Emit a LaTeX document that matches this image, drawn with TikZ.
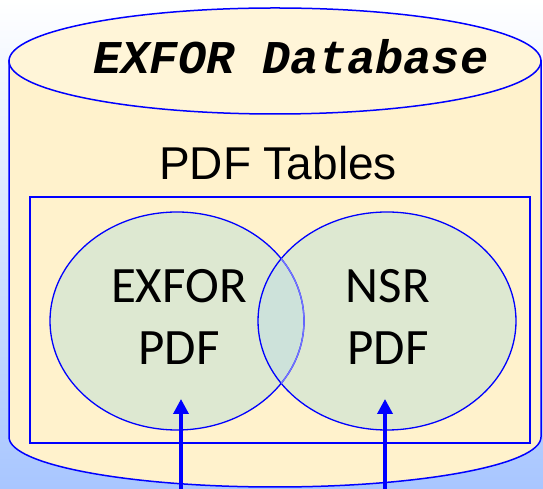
\documentclass[tikz,border=0pt]{standalone}
\usepackage{fontspec}
\usetikzlibrary{arrows.meta}
\newfontfamily\monofnt{Liberation Mono}
\newfontfamily\arialfnt{Liberation Sans}
\newfontfamily\calfnt{Carlito}
\definecolor{bgdark}{RGB}{168,198,255}
\definecolor{bglight}{RGB}{255,255,255}
\definecolor{cylbody}{RGB}{255,242,204}
\definecolor{cyltop}{RGB}{255,245,216}
\definecolor{venn}{RGB}{221,232,209}
\definecolor{lens}{RGB}{205,226,218}
\definecolor{edge}{RGB}{0,0,255}
\tikzset{
  outline/.style={draw=edge, line width=1.5pt},
  flow/.style={draw=edge, line width=3.5pt, -{Triangle[length=15pt,width=15pt]}},
  bigtext/.style={anchor=base, inner sep=0pt, text=black}
}
\begin{document}
\begin{tikzpicture}[x=1pt,y=1pt]
\useasboundingbox (0,0) rectangle (543,489);
\shade[shading angle=-45, top color=bglight, bottom color=bgdark] (0,0) rectangle (543,489);
% cylinder body
\path[outline, fill=cylbody] (9,428) -- (9,52) arc[start angle=180, end angle=360, x radius=266, y radius=50] -- (541,428) -- cycle;
% top ellipse
\path[outline, fill=cyltop] (275,428) ellipse [x radius=266, y radius=53];
\node[bigtext, font=\monofnt\bfseries\itshape\fontsize{47}{47}\selectfont] (title) at (291,415) {EXFOR Database};
\node[bigtext, font=\arialfnt\fontsize{46}{46}\selectfont] (tables) at (278,309) {PDF Tables};
% rectangle
\node[outline, fill=cylbody, minimum width=500pt, minimum height=246pt, inner sep=0pt] (box) at (280,169) {};
% circles
\fill[venn] (177,168) ellipse [x radius=127, y radius=109];
\fill[venn] (387,168) ellipse [x radius=129, y radius=109];
\begin{scope}
  \clip (177,168) ellipse [x radius=127, y radius=109];
  \fill[lens] (387,168) ellipse [x radius=129, y radius=109];
\end{scope}
\draw[draw=edge, line width=1.3pt] (177,168) ellipse [x radius=127, y radius=109];
\draw[draw=edge, line width=1.3pt] (387,168) ellipse [x radius=129, y radius=109];
\begin{scope}
  \clip (387,168) ellipse [x radius=129, y radius=109];
  \draw[draw=edge!55!white, line width=1.3pt] (177,168) ellipse [x radius=127, y radius=109];
\end{scope}
\coordinate (lc) at (177,168);
\coordinate (rc) at (387,168);
\node[bigtext, font=\calfnt\fontsize{51}{51}\selectfont] (exfor1) at (179,186) {EXFOR};
\node[bigtext, font=\calfnt\fontsize{51}{51}\selectfont] (exfor2) at (179,124) {PDF};
\node[bigtext, font=\calfnt\fontsize{51}{51}\selectfont] (nsr1) at (388,186) {NSR};
\node[bigtext, font=\calfnt\fontsize{51}{51}\selectfont] (nsr2) at (388,124) {PDF};
% arrows
\coordinate (la) at (181,-2);
\coordinate (lt) at (181,90);
\coordinate (ra) at (385,-2);
\coordinate (rt) at (385,90);
\draw[flow] (la) -- (lt);
\draw[flow] (ra) -- (rt);
\end{tikzpicture}
\end{document}
